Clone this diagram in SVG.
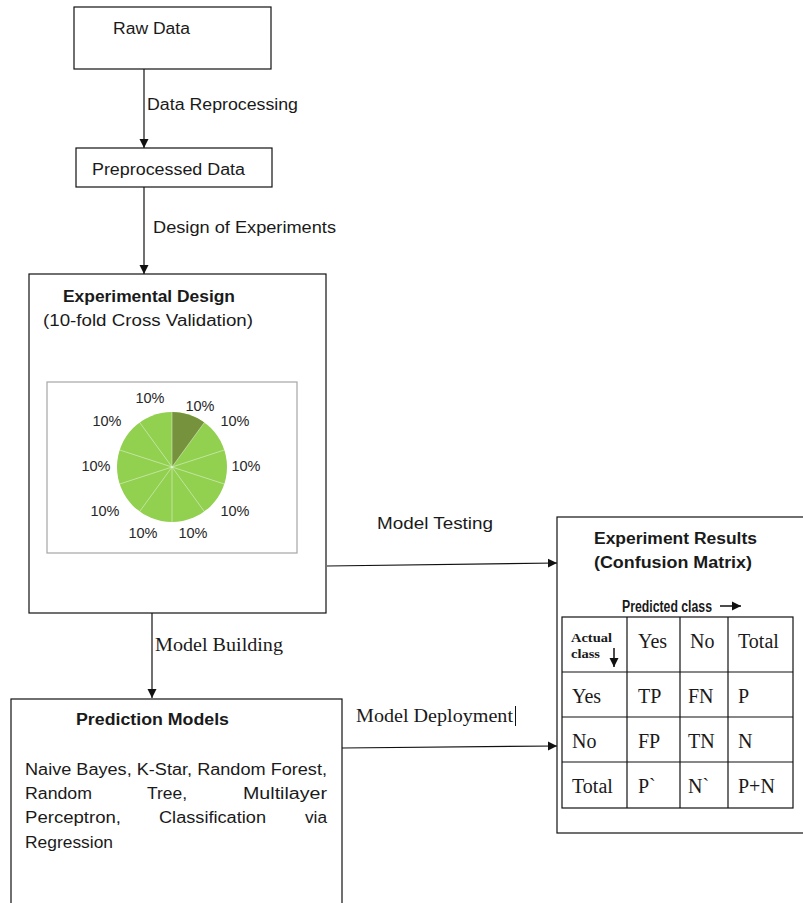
<svg xmlns="http://www.w3.org/2000/svg" width="803" height="903" viewBox="0 0 803 903">
<defs>
<marker id="ah" markerWidth="10" markerHeight="10" refX="9" refY="5" orient="auto" markerUnits="userSpaceOnUse">
<path d="M0,0.5 L9,5 L0,9.5 Z" fill="#111"/>
</marker>
<style>
.box{fill:#fff;stroke:#111;stroke-width:1.2}
.conn{fill:none;stroke:#111;stroke-width:1.2}
.sans{font-family:"Liberation Sans","DejaVu Sans",sans-serif;fill:#1a1a1a;font-size:16px}
.serif{font-family:"Liberation Serif","DejaVu Serif",serif;fill:#1a1a1a}
.b{font-weight:bold}
.pct{font-family:"Liberation Sans","DejaVu Sans",sans-serif;font-size:14.5px;fill:#262626;text-anchor:middle;dominant-baseline:central}
.cell{font-family:"Liberation Serif","DejaVu Serif",serif;font-size:20px;fill:#1a1a1a}
.sep{stroke:#ffffff;stroke-width:0.8;stroke-opacity:0.55}
.grid{fill:none;stroke:#111;stroke-width:1.2}
</style>
</defs>
<rect width="803" height="903" fill="#fff"/>

<g id="connectors">
<line class="conn" x1="144" y1="69" x2="144" y2="148" marker-end="url(#ah)"/>
<line class="conn" x1="144" y1="187" x2="144" y2="274" marker-end="url(#ah)"/>
<line class="conn" x1="152" y1="613" x2="152" y2="698" marker-end="url(#ah)"/>
<line class="conn" x1="327" y1="566" x2="557" y2="563" marker-end="url(#ah)"/>
<line class="conn" x1="342" y1="748" x2="557" y2="746" marker-end="url(#ah)"/>
<text class="sans" x="147" y="110" textLength="151" lengthAdjust="spacingAndGlyphs">Data Reprocessing</text>
<text class="sans" x="153" y="233" textLength="183" lengthAdjust="spacingAndGlyphs">Design of Experiments</text>
<text class="serif" x="155" y="651" font-size="18" textLength="128" lengthAdjust="spacingAndGlyphs">Model Building</text>
<text class="sans" x="377" y="529" textLength="116" lengthAdjust="spacingAndGlyphs">Model Testing</text>
<text class="serif" x="356" y="722" font-size="18" textLength="157" lengthAdjust="spacingAndGlyphs">Model Deployment</text>
<line x1="515.5" y1="706" x2="515.5" y2="726" stroke="#111" stroke-width="1"/>
</g>

<g id="raw-data">
<rect class="box" x="74" y="7" width="197" height="62"/>
<text class="sans" x="113" y="34" textLength="77" lengthAdjust="spacingAndGlyphs">Raw Data</text>
</g>

<g id="preprocessed-data">
<rect class="box" x="76" y="148" width="196" height="39"/>
<text class="sans" x="92" y="175" textLength="153" lengthAdjust="spacingAndGlyphs">Preprocessed Data</text>
</g>

<g id="experimental-design">
<rect class="box" x="29" y="274" width="297" height="339"/>
<text class="sans b" x="63" y="302" textLength="172" lengthAdjust="spacingAndGlyphs">Experimental Design</text>
<text class="sans" x="43" y="326" textLength="210" lengthAdjust="spacingAndGlyphs">(10-fold Cross Validation)</text>
<rect x="47" y="382" width="250" height="171" fill="#fff" stroke="#a6a6a6" stroke-width="1.2"/>
<circle cx="172" cy="467" r="55" fill="#92d050"/>
<path d="M172,467 L172,412 A55,55 0 0 1 204.33,422.5 Z" fill="#76923c"/>
<g class="sep">
<line x1="172" y1="467" x2="172" y2="412"/>
<line x1="172" y1="467" x2="204.33" y2="422.5"/>
<line x1="172" y1="467" x2="224.31" y2="450"/>
<line x1="172" y1="467" x2="224.31" y2="484"/>
<line x1="172" y1="467" x2="204.33" y2="511.5"/>
<line x1="172" y1="467" x2="172" y2="522"/>
<line x1="172" y1="467" x2="139.67" y2="511.5"/>
<line x1="172" y1="467" x2="119.69" y2="484"/>
<line x1="172" y1="467" x2="119.69" y2="450"/>
<line x1="172" y1="467" x2="139.67" y2="422.5"/>
</g>
<text class="pct" x="150" y="398">10%</text>
<text class="pct" x="200" y="406">10%</text>
<text class="pct" x="235" y="421">10%</text>
<text class="pct" x="246" y="466">10%</text>
<text class="pct" x="235" y="511">10%</text>
<text class="pct" x="193" y="533">10%</text>
<text class="pct" x="143" y="533">10%</text>
<text class="pct" x="105" y="511">10%</text>
<text class="pct" x="96" y="466">10%</text>
<text class="pct" x="107" y="421">10%</text>
</g>

<g id="prediction-models">
<rect class="box" x="11" y="699" width="331" height="215"/>
<text class="sans b" x="76" y="725" textLength="153" lengthAdjust="spacingAndGlyphs">Prediction Models</text>
<text class="sans" x="25" y="775" textLength="302" lengthAdjust="spacingAndGlyphs">Naive Bayes, K-Star, Random Forest,</text>
<text class="sans" x="25" y="799" textLength="67" lengthAdjust="spacingAndGlyphs">Random</text>
<text class="sans" x="147" y="799" textLength="40" lengthAdjust="spacingAndGlyphs">Tree,</text>
<text class="sans" x="243" y="799" textLength="84" lengthAdjust="spacingAndGlyphs">Multilayer</text>
<text class="sans" x="25" y="823" textLength="96" lengthAdjust="spacingAndGlyphs">Perceptron,</text>
<text class="sans" x="159" y="823" textLength="107" lengthAdjust="spacingAndGlyphs">Classification</text>
<text class="sans" x="305" y="823" textLength="22" lengthAdjust="spacingAndGlyphs">via</text>
<text class="sans" x="25" y="848" textLength="88" lengthAdjust="spacingAndGlyphs">Regression</text>
</g>

<g id="experiment-results">
<rect class="box" x="557" y="517" width="260" height="316"/>
<text class="sans b" x="594" y="544" textLength="163" lengthAdjust="spacingAndGlyphs">Experiment Results</text>
<text class="sans b" x="594" y="568" textLength="158" lengthAdjust="spacingAndGlyphs">(Confusion Matrix)</text>
<text class="sans b" x="622" y="612" font-size="11.5" textLength="90" lengthAdjust="spacingAndGlyphs">Predicted class</text>
<line x1="720" y1="606" x2="741" y2="606" stroke="#111" stroke-width="1.5" marker-end="url(#ah)"/>
<rect class="grid" x="562" y="617" width="231" height="191"/>
<line class="grid" x1="627" y1="617" x2="627" y2="808"/>
<line class="grid" x1="680" y1="617" x2="680" y2="808"/>
<line class="grid" x1="728" y1="617" x2="728" y2="808"/>
<line class="grid" x1="562" y1="672" x2="793" y2="672"/>
<line class="grid" x1="562" y1="717" x2="793" y2="717"/>
<line class="grid" x1="562" y1="762" x2="793" y2="762"/>
<text class="serif b" x="571" y="642" font-size="12.5" textLength="41" lengthAdjust="spacingAndGlyphs">Actual</text>
<text class="serif b" x="571" y="658" font-size="12.5" textLength="29" lengthAdjust="spacingAndGlyphs">class</text>
<line x1="614" y1="648" x2="614" y2="667" stroke="#111" stroke-width="1.5" marker-end="url(#ah)"/>
<text class="cell" x="638" y="648">Yes</text>
<text class="cell" x="690" y="648">No</text>
<text class="cell" x="738" y="648">Total</text>
<text class="cell" x="572" y="703">Yes</text>
<text class="cell" x="638" y="703">TP</text>
<text class="cell" x="688" y="703">FN</text>
<text class="cell" x="738" y="703">P</text>
<text class="cell" x="572" y="748">No</text>
<text class="cell" x="638" y="748">FP</text>
<text class="cell" x="688" y="748">TN</text>
<text class="cell" x="738" y="748">N</text>
<text class="cell" x="572" y="793">Total</text>
<text class="cell" x="638" y="793">P`</text>
<text class="cell" x="688" y="793">N`</text>
<text class="cell" x="738" y="793">P+N</text>
</g>
</svg>
